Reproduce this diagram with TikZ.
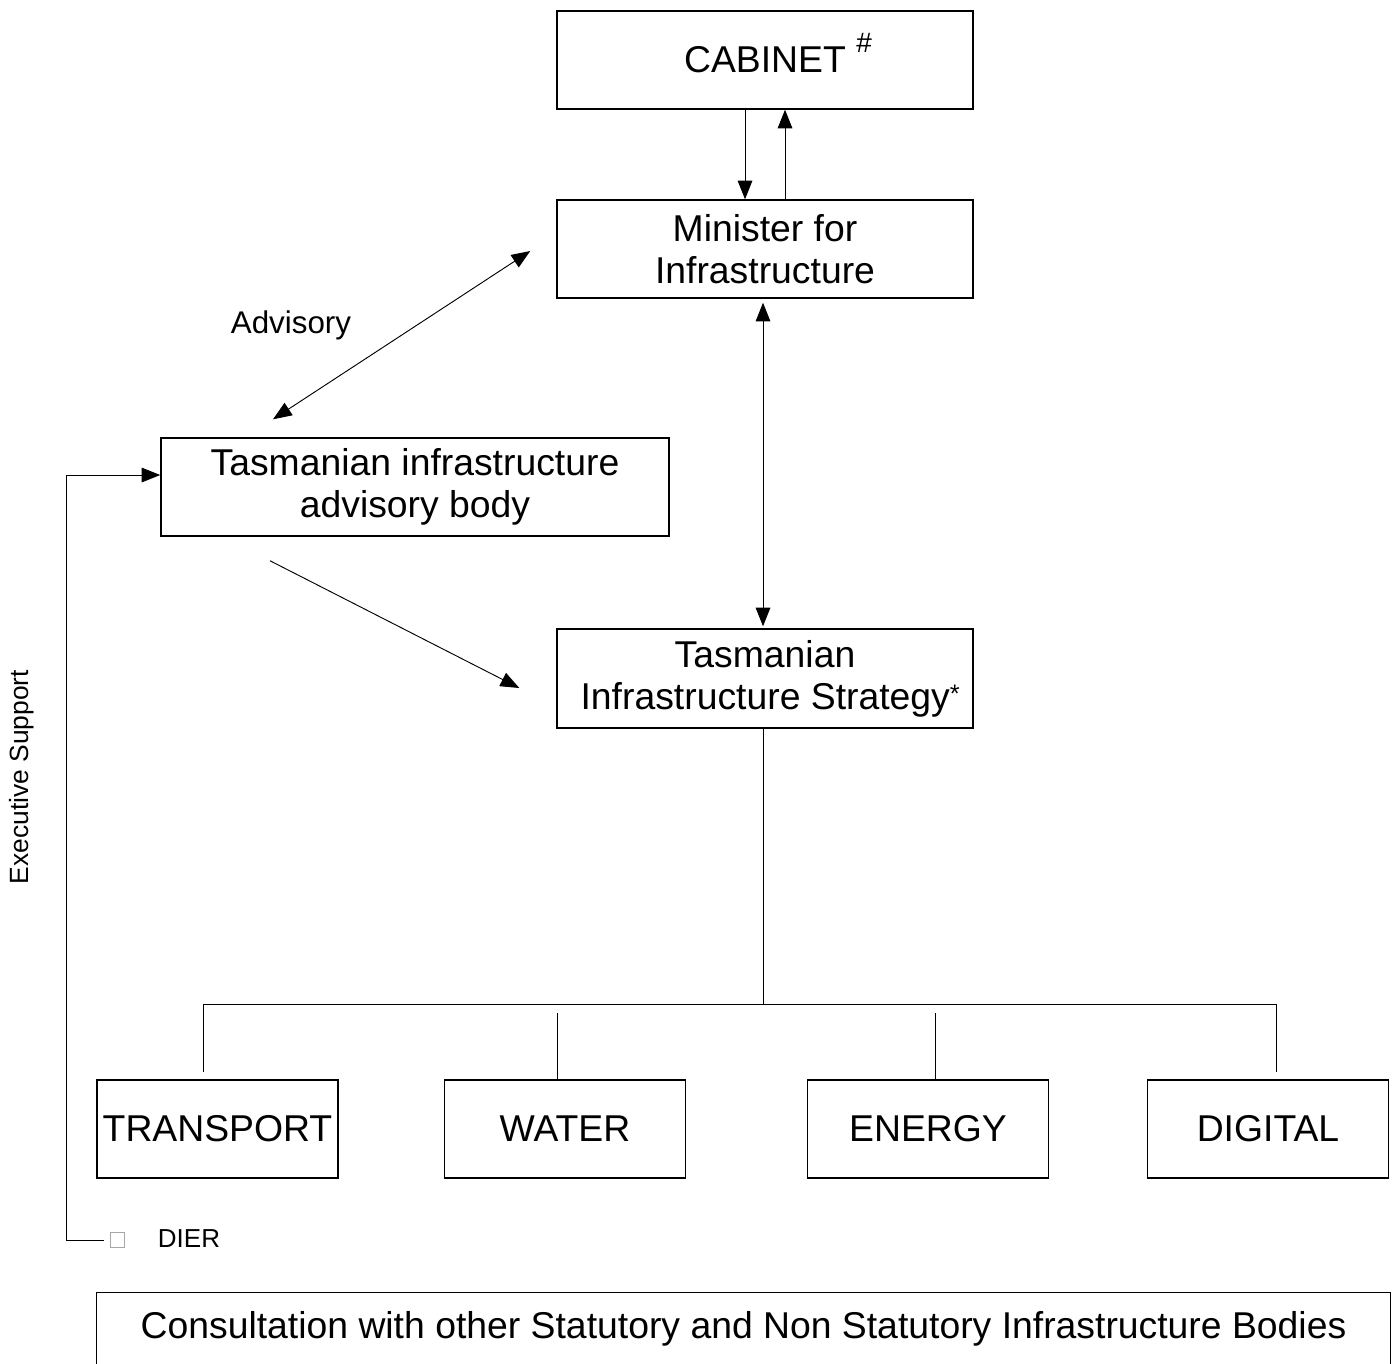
\documentclass[tikz,border=0pt]{standalone}
\usepackage{fontspec}
\setmainfont{Liberation Sans}
\usetikzlibrary{arrows.meta}
\begin{document}
\begin{tikzpicture}[x=0.75pt,y=-0.75pt,
  box/.style={draw,line width=1.1pt,inner sep=0pt,align=center,font=\fontsize{28}{31.5}\selectfont},
  bigw/.style={minimum width=312pt,minimum height=73.5pt},
  smallw/.style={minimum width=180.75pt,minimum height=73.5pt},
  conn/.style={line width=0.7pt},
  arr/.style={conn,-{Triangle[length=14pt,width=11pt]}},
  darr/.style={conn,{Triangle[length=14pt,width=11pt]}-{Triangle[length=14pt,width=11pt]}},
  lbl/.style={inner sep=0pt}
]
\useasboundingbox (0,0) rectangle (1397,1364);

% boxes
\node[box,bigw] (cab) at (765,60) {CABINET\rlap{ \raisebox{15pt}[0pt][0pt]{\fontsize{21}{21}\selectfont\#}}};
\node[box,bigw] (min) at (765,249) {Minister for\\Infrastructure};
\node[box,minimum width=381pt,minimum height=73.5pt] (adv) at (415,487) {Tasmanian infrastructure\\advisory body};
\node[box,minimum width=312pt,minimum height=74.25pt] (strat) at (765,678.5) {Tasmanian\\\ Infrastructure Strategy\raisebox{5pt}{\fontsize{19}{19}\selectfont *}};
\node[box,smallw] (transport) at (217.5,1129) {TRANSPORT};
\node[box,smallw] (water) at (565,1129) {WATER};
\node[box,smallw] (energy) at (928,1129) {ENERGY};
\node[box,smallw] (digital) at (1268,1129) {DIGITAL};
\node[box,draw=none,minimum width=969.75pt,minimum height=54pt] (consult) at (743.5,1329) {Consultation with other Statutory and Non Statutory Infrastructure Bodies};
\draw[line width=1.1pt] (consult.south west) -- (consult.north west) -- (consult.north east) -- (consult.south east);

% labels
\node[lbl,font=\fontsize{23.5}{28}\selectfont] (advlbl) at (291,325) {Advisory};
\node[lbl,font=\fontsize{19.5}{24}\selectfont] (dier) at (189,1239) {DIER};
\node[lbl,font=\fontsize{19.8}{24}\selectfont,rotate=90] (exec) at (22,777) {Executive Support};
\node[draw=gray!70,line width=0.6pt,minimum width=10.5pt,minimum height=11.25pt,inner sep=0pt] (tofu) at (117,1239.5) {};

% connectors
\draw[arr] ([shift={(-20,0)}]cab.south) -- ([shift={(-20,0)}]min.north);
\draw[arr] ([shift={(20,0)}]min.north) -- ([shift={(20,0)}]cab.south);
\draw[darr] ([shift={(-26,2)}]min.west) -- ([shift={(-142,-18)}]adv.north);
\draw[darr] ([shift={(-2,4)}]min.south) -- ([shift={(-2,-2)}]strat.north);
\draw[arr] ([shift={(-145,24)}]adv.south) -- ([shift={(-37,9.5)}]strat.west);

% tree
\coordinate (hl) at (203,1004);
\coordinate (hr) at (1276,1004);
\coordinate (tl) at (203,1072);
\coordinate (dt) at (1276,1072);
\coordinate (wt) at (557,1013);
\coordinate (et) at (935,1013);
\coordinate (sj) at (763,1004);
\draw[conn] (hl) -- (hr);
\draw[conn] (strat.south -| sj) -- (sj);
\draw[conn] (hl) -- (tl);
\draw[conn] (hr) -- (dt);
\draw[conn] (wt) -- (wt |- water.north);
\draw[conn] (et) -- (et |- energy.north);

% executive support
\coordinate (es) at (66,1240);
\coordinate (dl) at (104,1240);
\coordinate (advin) at ([shift={(0,-12)}]adv.west);
\draw[arr] (dl) -- (es) -- (es |- advin) -- (advin);
\end{tikzpicture}
\end{document}
